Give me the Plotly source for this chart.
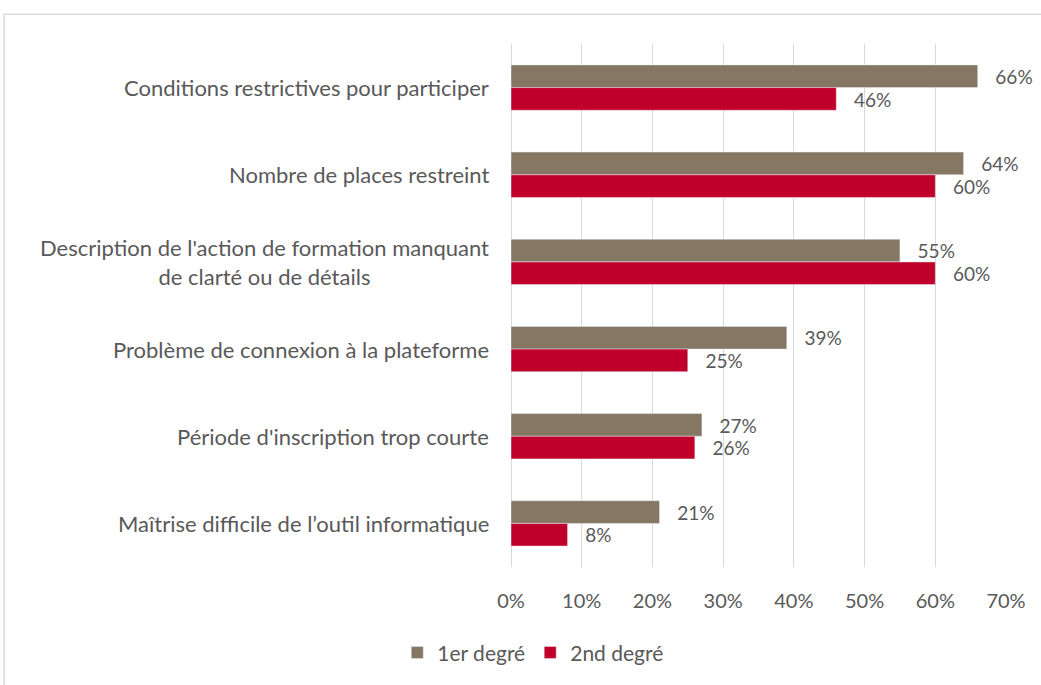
import plotly.graph_objects as go

categories = [
    "Conditions restrictives pour participer",
    "Nombre de places restreint",
    "Description de l'action de formation manquant<br>de clarté ou de détails",
    "Problème de connexion à la plateforme",
    "Période d'inscription trop courte",
    "Maîtrise difficile de l’outil informatique",
]
premier_degre = [0.66, 0.64, 0.55, 0.39, 0.27, 0.21]
second_degre = [0.46, 0.60, 0.60, 0.25, 0.26, 0.08]
x_ticks = [0, 0.1, 0.2, 0.3, 0.4, 0.5, 0.6, 0.7]

FONT = "Lato"
TXT = "#595959"

fig = go.Figure()
fig.add_trace(go.Bar(
    y=categories, x=premier_degre, orientation="h", name="1er degré",
    marker=dict(color="#857763"),
    texttemplate="   %{x:.0%}", textposition="outside",
    textfont=dict(size=21, color=TXT, family=FONT), cliponaxis=False,
))
fig.add_trace(go.Bar(
    y=categories, x=second_degre, orientation="h", name="2nd degré",
    marker=dict(color="#C0002A"),
    texttemplate="   %{x:.0%}", textposition="outside",
    textfont=dict(size=21, color=TXT, family=FONT), cliponaxis=False,
))

# category labels as annotations so that the two-line label is centred
for c in categories:
    fig.add_annotation(x=0, y=c, xref="paper", yref="y", text=c, showarrow=False,
                       xanchor="right", xshift=-20, align="center",
                       font=dict(size=22, color=TXT, family=FONT))

# outer chart frame
fig.add_shape(type="rect", xref="paper", yref="paper", x0=-1.024, x1=1.3, y0=-0.4, y1=1.057,
              line=dict(color="#d9d9d9", width=1.5), fillcolor="rgba(0,0,0,0)", layer="below")

fig.update_layout(
    width=1041, height=685,
    margin=dict(l=511, r=35, t=44, b=116),
    paper_bgcolor="white", plot_bgcolor="white",
    barmode="group", bargap=0.48, bargroupgap=0,
    font=dict(family=FONT, color=TXT),
    showlegend=True,
    legend=dict(orientation="h", x=0.045, xanchor="center", y=-0.164, yanchor="middle",
                font=dict(size=21, color=TXT, family=FONT), traceorder="normal",
                itemwidth=30),
    xaxis=dict(range=[0, 0.7], tickvals=x_ticks, tickformat=".0%",
               showgrid=True, gridcolor="#d9d9d9", gridwidth=1,
               zeroline=True, zerolinecolor="#d9d9d9", zerolinewidth=1,
               showline=False, ticks="", ticklabelstandoff=20,
               tickfont=dict(size=20, color=TXT, family=FONT)),
    yaxis=dict(categoryorder="array", categoryarray=categories, autorange="reversed",
               showticklabels=False, showgrid=False, showline=False, ticks=""),
)

fig.write_html("out.html", config={"displayModeBar": False},
               post_script="document.body.style.margin='0';")
